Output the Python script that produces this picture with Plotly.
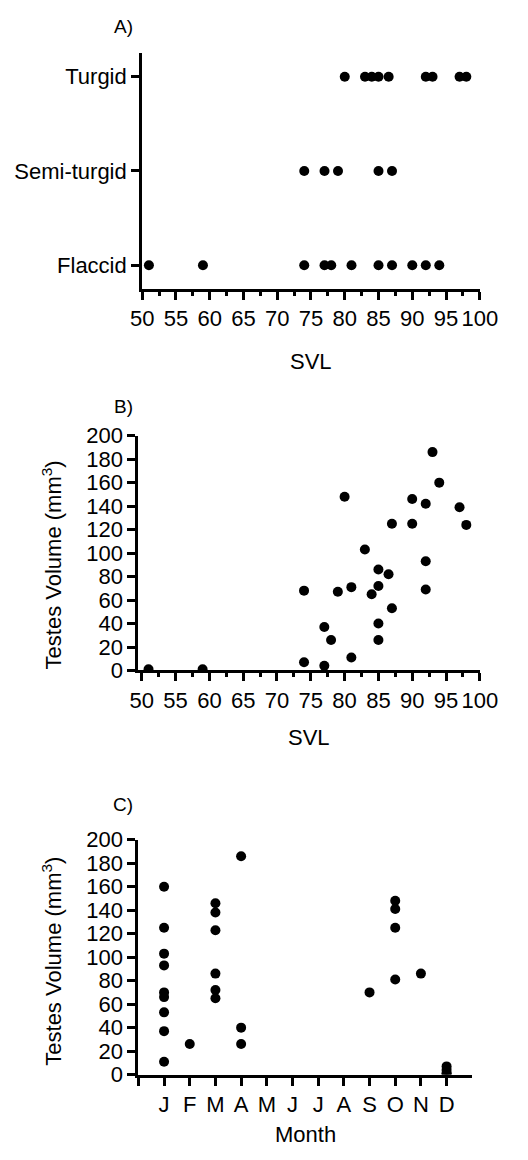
import plotly.graph_objects as go

# ---------------- data ----------------
# Panel A: testes condition vs SVL
turgid_svl = [80, 83, 84, 85, 86.5, 92, 93, 97, 98]
semiturgid_svl = [74, 77, 79, 85, 87]
flaccid_svl = [51, 59, 74, 77, 78, 81, 85, 87, 90, 92, 94]
condition_labels = ["Flaccid", "Semi-turgid", "Turgid"]

# Panel B: testes volume vs SVL
svl_b = [51, 59, 74, 74, 77, 77, 78, 79, 80, 81, 81, 83, 84, 85, 85, 85, 85,
         86.5, 87, 87, 90, 90, 92, 92, 92, 93, 94, 97, 98]
vol_b = [1, 1, 68, 7, 37, 4, 26, 67, 148, 71, 11, 103, 65, 86, 72, 40, 26,
         82, 125, 53, 146, 125, 142, 93, 69, 186, 160, 139, 124]

# Panel C: testes volume by month (1 = January ... 12 = December)
month_c = [1, 1, 1, 1, 1, 1, 1, 1, 1,
           2,
           3, 3, 3, 3, 3, 3,
           4, 4, 4,
           9,
           10, 10, 10, 10,
           11,
           12, 12, 12, 12]
vol_c = [160, 125, 103, 93, 70, 66, 53, 37, 11,
         26,
         146, 138, 123, 86, 72, 65,
         186, 40, 26,
         70,
         148, 141, 125, 81,
         86,
         7, 4, 1, 1]
month_ticks = [1, 2, 3, 4, 5, 6, 7, 8, 9, 10, 11, 12]
month_labels = ["J", "F", "M", "A", "M", "J", "J", "A", "S", "O", "N", "D"]

# ---------------- figure ----------------
W, H = 528, 1160
FONT = "Liberation Sans, Arial, Helvetica, sans-serif"
FS = 22

def px_x(p):
    return p / W

def px_y(p):
    return 1 - p / H

marker = dict(color="black", size=10, line=dict(width=0))

fig = go.Figure()
fig.add_trace(go.Scatter(x=turgid_svl, y=["Turgid"] * len(turgid_svl), mode="markers",
                         marker=marker, xaxis="x", yaxis="y", showlegend=False))
fig.add_trace(go.Scatter(x=semiturgid_svl, y=["Semi-turgid"] * len(semiturgid_svl), mode="markers",
                         marker=marker, xaxis="x", yaxis="y", showlegend=False))
fig.add_trace(go.Scatter(x=flaccid_svl, y=["Flaccid"] * len(flaccid_svl), mode="markers",
                         marker=marker, xaxis="x", yaxis="y", showlegend=False))
fig.add_trace(go.Scatter(x=svl_b, y=vol_b, mode="markers", marker=marker,
                         xaxis="x2", yaxis="y2", showlegend=False))
fig.add_trace(go.Scatter(x=month_c, y=vol_c, mode="markers", marker=marker,
                         xaxis="x3", yaxis="y3", showlegend=False))

axis_common = dict(showline=True, linewidth=3, linecolor="black", ticks="outside",
                   ticklen=8, tickwidth=2.5, tickcolor="black", showgrid=False,
                   zeroline=False, tickfont=dict(family=FONT, size=FS, color="black"))
minor = dict(dtick=2.5, tick0=50, ticks="outside", ticklen=4, tickwidth=2.5,
             tickcolor="black", showgrid=False)
minor_month = dict(tickmode="array", tickvals=[0], ticks="outside", ticklen=8,
                   tickwidth=2.5, tickcolor="black", showgrid=False)

fig.update_layout(
    width=W, height=H,
    margin=dict(l=0, r=0, t=0, b=0),
    paper_bgcolor="white", plot_bgcolor="white",
    font=dict(family=FONT, size=FS, color="black"),
    xaxis=dict(axis_common, domain=[px_x(138), px_x(496)], range=[50, 100],
               tickmode="linear", tick0=50, dtick=5, minor=minor, anchor="y"),
    yaxis=dict(axis_common, domain=[px_y(283), px_y(42)], type="category",
               categoryorder="array", categoryarray=condition_labels,
               range=[-0.25, 2.25], anchor="x"),
    xaxis2=dict(axis_common, domain=[px_x(134), px_x(496)], range=[49.5, 100],
                tickmode="linear", tick0=50, dtick=5, minor=minor, anchor="y2"),
    yaxis2=dict(axis_common, domain=[px_y(673), px_y(433)], range=[0, 200],
                tickmode="linear", tick0=0, dtick=20, anchor="x2"),
    xaxis3=dict(axis_common, domain=[px_x(134), px_x(488)], range=[0, 13],
                tickmode="array", tickvals=month_ticks, ticktext=month_labels,
                minor=minor_month, anchor="y3"),
    yaxis3=dict(axis_common, domain=[px_y(1086), px_y(846)], range=[0, 200],
                tickmode="linear", tick0=0, dtick=20, anchor="x3"),
)

ann_font = dict(family=FONT, size=FS, color="black")
annotations = [
    dict(text="A)", x=px_x(118), y=px_y(15), font=dict(family=FONT, size=19)),
    dict(text="B)", x=px_x(118), y=px_y(403), font=dict(family=FONT, size=19)),
    dict(text="C)", x=px_x(118), y=px_y(810), font=dict(family=FONT, size=19)),
    dict(text="SVL", x=px_x(317), y=px_y(357), font=ann_font),
    dict(text="SVL", x=px_x(315), y=px_y(741), font=ann_font),
    dict(text="Month", x=px_x(311), y=px_y(1147), font=ann_font),
    dict(text="Testes Volume (mm<sup>3</sup>)", x=px_x(42), y=px_y(565),
         textangle=-90, font=ann_font),
    dict(text="Testes Volume (mm<sup>3</sup>)", x=px_x(42), y=px_y(970),
         textangle=-90, font=ann_font),
]
for a in annotations:
    a.update(xref="paper", yref="paper", showarrow=False, xanchor="center", yanchor="middle")
fig.update_layout(annotations=annotations)

css_fix = (
    "var s=document.createElement('style');"
    "s.textContent='html,body{margin:0!important;padding:0!important;overflow:hidden!important;}';"
    "document.head.appendChild(s);"
)
fig.write_html("out.html", config={"displayModeBar": False}, post_script=css_fix)
